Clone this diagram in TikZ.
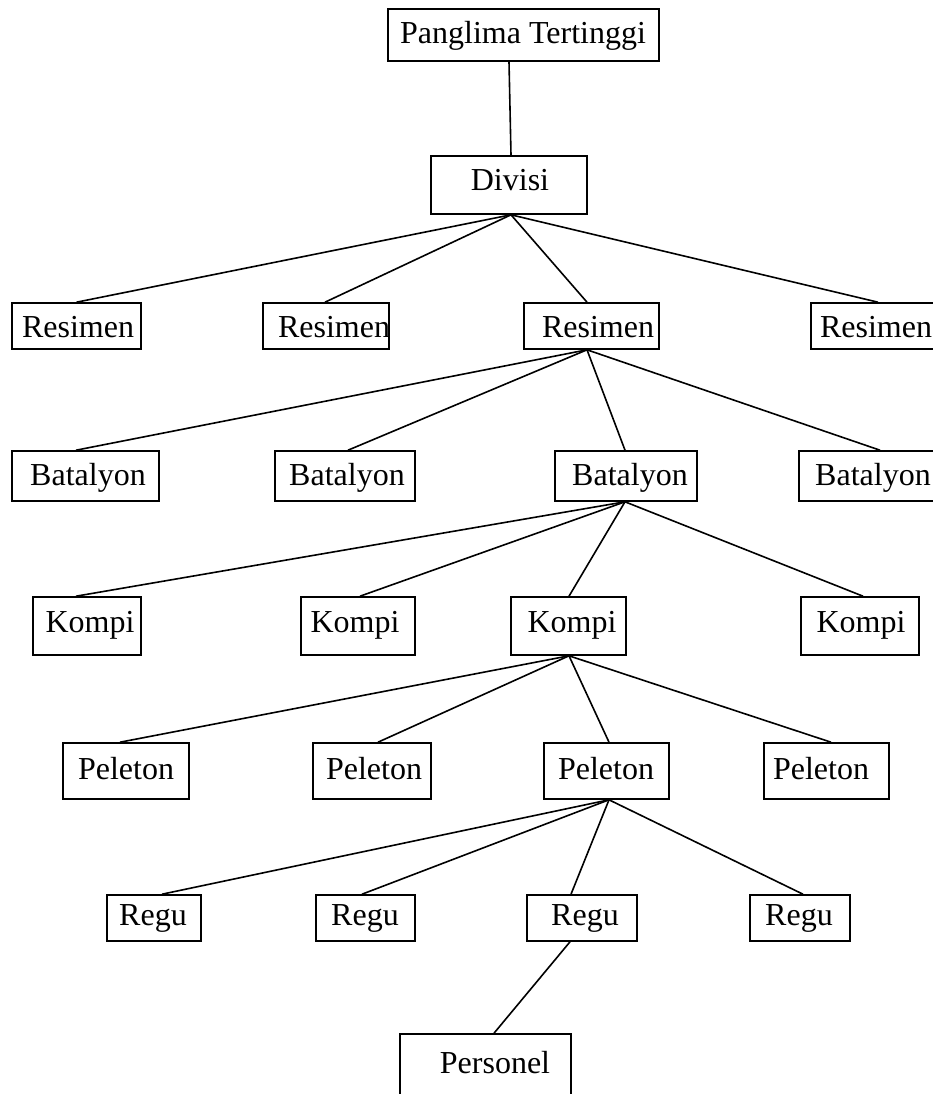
\documentclass[tikz,border=0pt]{standalone}
\usepackage{fontspec}
\setmainfont{Liberation Serif}
\begin{document}
\begin{tikzpicture}[x=1pt,y=-1pt,
  box/.style={draw, line width=1.6pt, inner sep=0pt},
  lbl/.style={anchor=base, inner sep=0pt, font=\fontsize{32}{38}\selectfont},
  link/.style={line width=1.6pt}]
\useasboundingbox (0,0) rectangle (933,1094);
% boxes
\node[box, minimum width=271pt, minimum height=52pt] (pt) at (523.5,35) {};
\node[box, minimum width=156pt, minimum height=58pt] (dv) at (509,185) {};
\node[box, minimum width=129pt, minimum height=46pt] (r1) at (76.5,326) {};
\node[box, minimum width=126pt, minimum height=46pt] (r2) at (326,326) {};
\node[box, minimum width=135pt, minimum height=46pt] (r3) at (591.5,326) {};
\node[box, minimum width=130pt, minimum height=46pt] (r4) at (876,326) {};
\node[box, minimum width=147pt, minimum height=50pt] (b1) at (85.5,476) {};
\node[box, minimum width=140pt, minimum height=50pt] (b2) at (345,476) {};
\node[box, minimum width=142pt, minimum height=50pt] (b3) at (626,476) {};
\node[box, minimum width=142pt, minimum height=50pt] (b4) at (870,476) {};
\node[box, minimum width=108pt, minimum height=58pt] (k1) at (87,626) {};
\node[box, minimum width=114pt, minimum height=58pt] (k2) at (358,626) {};
\node[box, minimum width=115pt, minimum height=58pt] (k3) at (568.5,626) {};
\node[box, minimum width=118pt, minimum height=58pt] (k4) at (860,626) {};
\node[box, minimum width=126pt, minimum height=56pt] (p1) at (126,771) {};
\node[box, minimum width=118pt, minimum height=56pt] (p2) at (372,771) {};
\node[box, minimum width=125pt, minimum height=56pt] (p3) at (606.5,771) {};
\node[box, minimum width=125pt, minimum height=56pt] (p4) at (826.5,771) {};
\node[box, minimum width=94pt, minimum height=46pt] (g1) at (154,918) {};
\node[box, minimum width=99pt, minimum height=46pt] (g2) at (365.5,918) {};
\node[box, minimum width=110pt, minimum height=46pt] (g3) at (582,918) {};
\node[box, minimum width=100pt, minimum height=46pt] (g4) at (800,918) {};
\node[box, minimum width=171pt, minimum height=76pt] (ps) at (485.5,1072) {};
% labels
\node[lbl] (tpt) at (523,44) {Panglima Tertinggi};
\node[lbl] (tdv) at (510,190) {Divisi};
\node[lbl] (tr1) at (78,337) {Resimen};
\node[lbl] (tr2) at (334,337) {Resimen};
\node[lbl] (tr3) at (598,337) {Resimen};
\node[lbl] (tr4) at (876,337) {Resimen};
\node[lbl] (tb1) at (88,485) {Batalyon};
\node[lbl] (tb2) at (347,485) {Batalyon};
\node[lbl] (tb3) at (630,485) {Batalyon};
\node[lbl] (tb4) at (873,485) {Batalyon};
\node[lbl] (tk1) at (90,632) {Kompi};
\node[lbl] (tk2) at (355,632) {Kompi};
\node[lbl] (tk3) at (572,632) {Kompi};
\node[lbl] (tk4) at (861,632) {Kompi};
\node[lbl] (tp1) at (126,779) {Peleton};
\node[lbl] (tp2) at (374,779) {Peleton};
\node[lbl] (tp3) at (606,779) {Peleton};
\node[lbl] (tp4) at (821,779) {Peleton};
\node[lbl] (tg1) at (153,925) {Regu};
\node[lbl] (tg2) at (365,925) {Regu};
\node[lbl] (tg3) at (585,925) {Regu};
\node[lbl] (tg4) at (799,925) {Regu};
\node[lbl] (tps) at (495,1073) {Personel};
% connectors
\draw[link] ([xshift=-14.5pt]pt.south) -- ([xshift=2pt]dv.north);
\draw[link] ([xshift=2pt]dv.south) -- (r1.north);
\draw[link] ([xshift=2pt]dv.south) -- ([xshift=-1pt]r2.north);
\draw[link] ([xshift=2pt]dv.south) -- ([xshift=-4.5pt]r3.north);
\draw[link] ([xshift=2pt]dv.south) -- ([xshift=2pt]r4.north);
\draw[link] ([xshift=-4.5pt]r3.south) -- ([xshift=-9.5pt]b1.north);
\draw[link] ([xshift=-4.5pt]r3.south) -- ([xshift=3pt]b2.north);
\draw[link] ([xshift=-4.5pt]r3.south) -- ([xshift=-1pt]b3.north);
\draw[link] ([xshift=-4.5pt]r3.south) -- ([xshift=10pt]b4.north);
\draw[link] ([xshift=-1pt]b3.south) -- ([xshift=-11pt]k1.north);
\draw[link] ([xshift=-1pt]b3.south) -- ([xshift=2pt]k2.north);
\draw[link] ([xshift=-1pt]b3.south) -- ([xshift=0.5pt]k3.north);
\draw[link] ([xshift=-1pt]b3.south) -- ([xshift=3pt]k4.north);
\draw[link] ([xshift=0.5pt]k3.south) -- ([xshift=-6pt]p1.north);
\draw[link] ([xshift=0.5pt]k3.south) -- ([xshift=6pt]p2.north);
\draw[link] ([xshift=0.5pt]k3.south) -- ([xshift=2.5pt]p3.north);
\draw[link] ([xshift=0.5pt]k3.south) -- ([xshift=4.5pt]p4.north);
\draw[link] ([xshift=2.5pt]p3.south) -- ([xshift=8pt]g1.north);
\draw[link] ([xshift=2.5pt]p3.south) -- ([xshift=-3.5pt]g2.north);
\draw[link] ([xshift=2.5pt]p3.south) -- ([xshift=-11pt]g3.north);
\draw[link] ([xshift=2.5pt]p3.south) -- ([xshift=3pt]g4.north);
\draw[link] ([xshift=-12pt]g3.south) -- ([xshift=8.5pt]ps.north);
\end{tikzpicture}
\end{document}
